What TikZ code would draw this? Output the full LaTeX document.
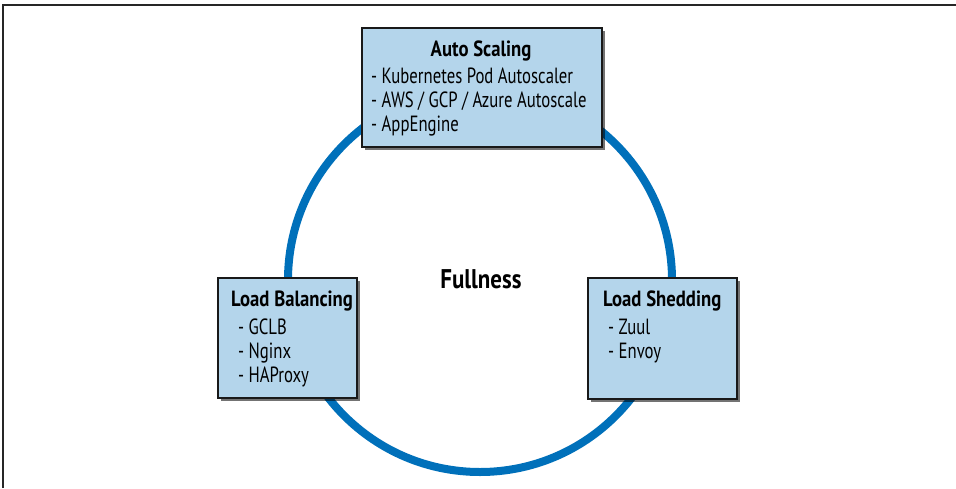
\documentclass[tikz,border=0pt]{standalone}
\usepackage{fontspec}
\setmainfont{PT Sans}[FakeStretch=0.76, BoldFeatures={FakeStretch=0.85}]
\usetikzlibrary{shadows}
\definecolor{ringblue}{HTML}{0070BA}
\definecolor{boxblue}{HTML}{B4D5EB}
\tikzset{
  frameline/.style={draw=black!85, line width=1.5pt},
  ring/.style={draw=ringblue, line width=8pt},
  box/.style={draw=black!90, fill=boxblue, line width=2pt, inner sep=0pt,
    drop shadow={shadow xshift=3pt, shadow yshift=-3pt, opacity=0.55, fill=black}},
  title/.style={font=\fontsize{22}{26}\selectfont\bfseries, inner sep=0pt, anchor=base},
  item/.style={font=\fontsize{22}{26}\selectfont, inner sep=0pt, anchor=base west},
  centre/.style={font=\fontsize{27}{32}\selectfont\bfseries, inner sep=0pt, anchor=base}
}
\begin{document}
\begin{tikzpicture}[x=1pt,y=-1pt]
\useasboundingbox (0,0) rectangle (956,488);
\coordinate (fl) at (3,488);
\coordinate (fc) at (3,5);
\coordinate (fr) at (956,5);
\draw[frameline] (fl) -- (fc) -- (fr);
\coordinate (c) at (480,280);
\draw[ring] (c) circle[radius=192];
\node[centre] (full) at (481,288) {Fullness};
% Auto Scaling
\node[box, minimum width=240pt, minimum height=119pt] (as) at (482,87.5) {};
\node[title] (ast) at (481,56) {Auto Scaling};
\node[item] (as1) at (371,83) {- Kubernetes Pod Autoscaler};
\node[item] (as2) at (371,107) {- AWS / GCP / Azure Autoscale};
\node[item] (as3) at (371,131) {- AppEngine};
% Load Balancing
\node[box, minimum width=139pt, minimum height=120pt] (lb) at (287.5,338) {};
\node[title, anchor=base west] (lbt) at (231,306) {Load Balancing};
\node[item] (lb1) at (238,334) {- GCLB};
\node[item] (lb2) at (238,358) {- Nginx};
\node[item] (lb3) at (238,382) {- HAProxy};
% Load Shedding
\node[box, minimum width=149pt, minimum height=121pt] (ls) at (662.5,338.5) {};
\node[title, anchor=base west] (lst) at (603,306) {Load Shedding};
\node[item] (ls1) at (608,334) {- Zuul};
\node[item] (ls2) at (608,358) {- Envoy};
\end{tikzpicture}
\end{document}
